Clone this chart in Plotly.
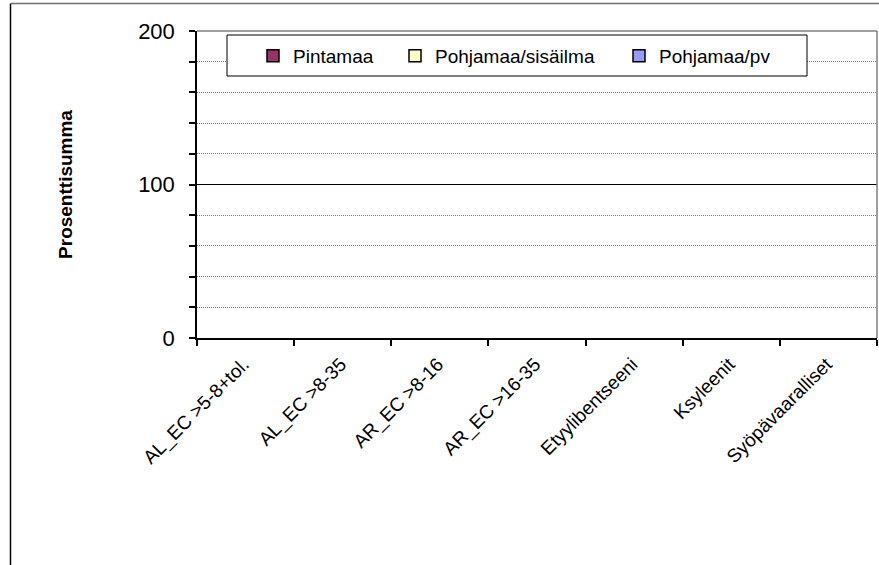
import plotly.graph_objects as go

categories = ["AL_EC >5-8+tol.", "AL_EC >8-35", "AR_EC >8-16", "AR_EC >16-35",
              "Etyylibentseeni", "Ksyleenit", "Syöpävaaralliset"]
series_names = ["Pintamaa", "Pohjamaa/sisäilma", "Pohjamaa/pv"]
pintamaa = [None, None, None, None, None, None, None]
pohjamaa_sisailma = [None, None, None, None, None, None, None]
pohjamaa_pv = [None, None, None, None, None, None, None]
series_values = [pintamaa, pohjamaa_sisailma, pohjamaa_pv]
series_colors = ["#993366", "#FFFFCC", "#9999FF"]
y_tick_values = [0, 100, 200]

FONT = "Liberation Sans, Arial, sans-serif"

W, H = 879, 565
L, R, T, B = 197, 2, 31, 227
pw, ph = W - L - R, H - T - B


def px_x(x):
    return (x - L) / pw


def px_y(y):
    return 1 - (y - T) / ph


legend_ids = ["legend", "legend2", "legend3"]
legend_text_x = [288, 430, 654]  # where each legend entry's text starts (pixels)

fig = go.Figure()
for name, vals, col, lid in zip(series_names, series_values, series_colors, legend_ids):
    fig.add_trace(go.Bar(x=categories, y=vals, name=name, legend=lid,
                         marker=dict(color=col, line=dict(color="black", width=1.5))))

legend_common = dict(orientation="h", xanchor="left", yanchor="middle",
                     xref="paper", yref="paper", bgcolor="rgba(0,0,0,0)", borderwidth=0,
                     font=dict(size=19, family=FONT), itemwidth=30)
legends = {}
for lid, tx in zip(legend_ids, legend_text_x):
    legends[lid] = dict(legend_common, x=px_x(tx + 5 - 40), y=px_y(56))

fig.update_layout(
    width=W, height=H,
    margin=dict(l=L, r=R, t=T, b=B, autoexpand=False),
    paper_bgcolor="white", plot_bgcolor="white",
    font=dict(family=FONT, color="black"),
    showlegend=True,
    bargap=0.5,
    **legends,
)

fig.update_xaxes(
    type="category", categoryorder="array", categoryarray=categories,
    range=[-0.5, len(categories) - 0.5],
    showline=True, linecolor="black", linewidth=1.5,
    ticks="outside", tickson="boundaries", ticklen=6, tickcolor="black", tickwidth=1.5,
    tickangle=-45, tickfont=dict(size=19, family=FONT),
    ticklabelshift=-2, ticklabelstandoff=6,
    showgrid=False, zeroline=False,
)
fig.update_yaxes(
    range=[0, 200], tickvals=y_tick_values,
    showline=True, linecolor="black", linewidth=1.5,
    ticks="outside", ticklen=6, tickcolor="black", tickwidth=1.5,
    tickfont=dict(size=22, family=FONT), ticklabelstandoff=10,
    showgrid=True, gridcolor="black", gridwidth=1,
    zeroline=False,
    minor=dict(dtick=20, showgrid=True, gridcolor="#808080", griddash="1px,1px", gridwidth=1,
               ticks="outside", ticklen=6, tickcolor="black"),
    title=dict(text="<b>Prosenttisumma</b>", font=dict(size=19, family=FONT), standoff=60),
)

# plot area border (top & right)
fig.add_shape(type="line", xref="paper", yref="paper", x0=0, x1=1, y0=1, y1=1,
              line=dict(color="#808080", width=1.5), layer="above")
fig.add_shape(type="line", xref="paper", yref="paper", x0=1, x1=1, y0=0, y1=1,
              line=dict(color="#808080", width=1.5), layer="above")
# legend box
fig.add_shape(type="rect", xref="paper", yref="paper",
              x0=px_x(227), x1=px_x(807), y0=px_y(76), y1=px_y(35),
              line=dict(color="black", width=1), fillcolor="white", layer="above")
# outer chart border (left & top)
fig.add_shape(type="line", xref="paper", yref="paper", x0=px_x(10.5), x1=px_x(10.5),
              y0=px_y(565), y1=px_y(3.5), line=dict(color="black", width=1.5))
fig.add_shape(type="line", xref="paper", yref="paper", x0=px_x(10.5), x1=px_x(879),
              y0=px_y(3.5), y1=px_y(3.5), line=dict(color="#707070", width=1.5))

fig.write_html("out.html", config={"displayModeBar": False},
               post_script="document.body.style.margin='0px';")
